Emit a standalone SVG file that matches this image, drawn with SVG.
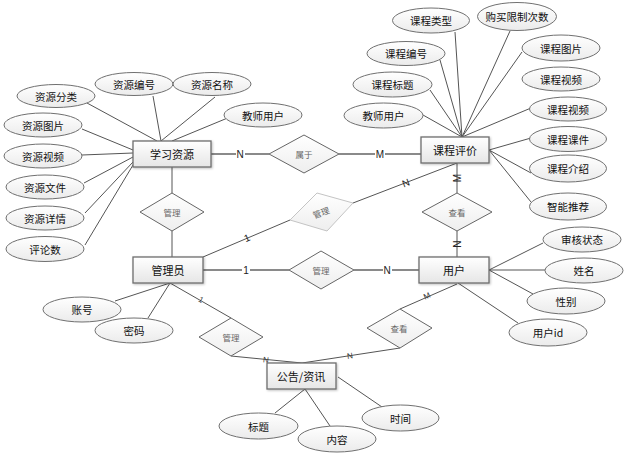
<svg xmlns="http://www.w3.org/2000/svg" width="633" height="465" viewBox="0 0 633 465">
<defs>
<linearGradient id="gE" x1="0" y1="0" x2="0" y2="1"><stop offset="0" stop-color="#ffffff"/><stop offset="1" stop-color="#e6e6e6"/></linearGradient>
<linearGradient id="gO" x1="0" y1="0" x2="0" y2="1"><stop offset="0" stop-color="#ffffff"/><stop offset="1" stop-color="#ebebeb"/></linearGradient>
<linearGradient id="gD" x1="0" y1="0" x2="0" y2="1"><stop offset="0" stop-color="#ffffff"/><stop offset="1" stop-color="#eeeeee"/></linearGradient>
<filter id="sh" x="-10%" y="-10%" width="130%" height="140%"><feDropShadow dx="1" dy="1" stdDeviation="0.8" flood-color="#000" flood-opacity="0.25"/></filter>
</defs>
<style>
.ent{fill:url(#gE);stroke:#6e6e6e;stroke-width:1.3;filter:url(#sh)}
.att{fill:url(#gO);stroke:#707070;stroke-width:1}
.rel{fill:url(#gD);stroke:#666;stroke-width:1}
.rel2{fill:url(#gD);stroke:#c4c4c4;stroke-width:1}
.ln{stroke:#555;stroke-width:1;fill:none}
.hl{stroke:#8a8a8a;stroke-width:2;fill:none}
text{font-family:"Noto Sans CJK SC","Liberation Sans",sans-serif;text-anchor:middle;dominant-baseline:central}
.te{font-size:11px;fill:#111}
.ta{font-size:10.5px;fill:#111}
.tr{font-size:8.5px;fill:#666}
.tc{font-size:10px;fill:#222;font-family:"Liberation Sans",sans-serif}
.ts{font-size:8px;fill:#333;font-family:"Liberation Sans",sans-serif}
</style>
<rect width="633" height="465" fill="#fff"/>
<g id="connectors">
<line class="ln" x1="87" y1="103" x2="157" y2="141"/>
<line class="ln" x1="153" y1="96" x2="161" y2="141"/>
<line class="ln" x1="215" y1="97" x2="161" y2="141"/>
<line class="ln" x1="230" y1="117" x2="172" y2="141"/>
<line class="ln" x1="82" y1="129" x2="133" y2="150"/>
<line class="ln" x1="82" y1="155" x2="133" y2="153"/>
<line class="ln" x1="84" y1="183" x2="133" y2="157"/>
<line class="ln" x1="85" y1="213" x2="133" y2="162"/>
<line class="ln" x1="85" y1="245" x2="133" y2="165"/>
<line class="ln" x1="455" y1="32" x2="462" y2="137"/>
<line class="ln" x1="510" y1="31" x2="462" y2="137"/>
<line class="ln" x1="440" y1="60" x2="462" y2="137"/>
<line class="ln" x1="522" y1="52" x2="462" y2="137"/>
<line class="ln" x1="430" y1="90" x2="462" y2="137"/>
<line class="ln" x1="423" y1="115" x2="462" y2="137"/>
<line class="ln" x1="531" y1="108" x2="462" y2="137"/>
<line class="ln" x1="531" y1="138" x2="489" y2="150"/>
<line class="ln" x1="531" y1="173" x2="489" y2="150"/>
<line class="ln" x1="531" y1="202" x2="489" y2="150"/>
<line class="ln" x1="543" y1="243" x2="489" y2="270"/>
<line class="ln" x1="545" y1="270" x2="489" y2="270"/>
<line class="ln" x1="533" y1="294" x2="489" y2="270"/>
<line class="ln" x1="518" y1="323" x2="458" y2="283"/>
<line class="ln" x1="115" y1="301" x2="170" y2="283"/>
<line class="ln" x1="148" y1="318" x2="170" y2="283"/>
<line class="ln" x1="275" y1="413" x2="305" y2="389"/>
<line class="ln" x1="305" y1="389" x2="330" y2="426"/>
<line class="ln" x1="338" y1="377" x2="382" y2="407"/>
<line class="hl" x1="211" y1="154" x2="269" y2="154"/>
<line class="hl" x1="339" y1="154" x2="421" y2="154"/>
<line class="ln" x1="457" y1="163" x2="457" y2="193"/>
<line class="ln" x1="457" y1="231" x2="457" y2="257"/>
<line class="ln" x1="172" y1="167" x2="172" y2="193"/>
<line class="ln" x1="172" y1="231" x2="172" y2="257"/>
<line class="ln" x1="203" y1="257" x2="290" y2="220"/>
<line class="ln" x1="353" y1="203" x2="457" y2="163"/>
<line class="hl" x1="203" y1="270" x2="289" y2="270"/>
<line class="hl" x1="354" y1="270" x2="419" y2="270"/>
<line class="ln" x1="170" y1="283" x2="231" y2="318"/>
<line class="ln" x1="231" y1="356" x2="302" y2="363"/>
<line class="ln" x1="457" y1="284" x2="400" y2="309"/>
<line class="ln" x1="400" y1="348" x2="302" y2="363"/>
<g>
<rect x="236" y="148" width="9" height="12" fill="#fff"/>
<text class="tc" x="240" y="154">N</text>
<rect x="375" y="148" width="10" height="12" fill="#fff"/>
<text class="tc" x="380" y="154">M</text>
<text class="tc" x="457" y="178" transform="rotate(-90 457 178)">M</text>
<text class="tc" x="457" y="244" transform="rotate(-90 457 244)">N</text>
<text class="tc" x="247" y="238" transform="rotate(-23 247 238)">1</text>
<text class="tc" x="406" y="183" transform="rotate(-21 406 183)">N</text>
<rect x="242" y="264" width="8" height="12" fill="#fff"/>
<text class="tc" x="246" y="270">1</text>
<rect x="383" y="264" width="9" height="12" fill="#fff"/>
<text class="tc" x="387" y="270">N</text>
<text class="ts" x="201" y="300" transform="rotate(30 201 300)">1</text>
<text class="ts" x="266" y="360" transform="rotate(6 266 360)">N</text>
<text class="ts" x="427" y="296" transform="rotate(-24 427 296)">M</text>
<text class="ts" x="350" y="356" transform="rotate(-9 350 356)">N</text>
</g>
</g>
<g id="xuexiziyuan"><rect class="ent" x="133" y="141" width="78" height="26"/><text class="te" x="172" y="154">学习资源</text></g>
<g id="kechengpingjia"><rect class="ent" x="421" y="137" width="68" height="26"/><text class="te" x="455" y="150">课程评价</text></g>
<g id="guanliyuan"><rect class="ent" x="133" y="257" width="70" height="26"/><text class="te" x="168" y="270">管理员</text></g>
<g id="yonghu"><rect class="ent" x="419" y="257" width="70" height="26"/><text class="te" x="454" y="270">用户</text></g>
<g id="gonggao"><rect class="ent" x="267" y="363" width="69" height="26"/><text class="te" x="301" y="376">公告/资讯</text></g>
<g id="rel-shuyu"><polygon class="rel" points="269,154 304,135 339,154 304,173"/><text class="tr" x="304" y="154">属于</text></g>
<g id="rel-chakan1"><polygon class="rel" points="422,212 457,193 492,212 457,231"/><text class="tr" x="457" y="212">查看</text></g>
<g id="rel-guanli1"><polygon class="rel" points="140,212 172,193 204,212 172,231"/><text class="tr" x="172" y="212">管理</text></g>
<g id="rel-guanli2"><polygon class="rel" points="289,270 321,251 354,270 321,289"/><text class="tr" x="321" y="270">管理</text></g>
<g id="rel-guanli3"><polygon class="rel2" points="290,220 317,193 353,203 327,231"/><text class="tr" x="321" y="212" transform="rotate(-20 321 212)">管理</text></g>
<g id="rel-guanli4"><polygon class="rel" points="199,337 231,318 263,337 231,356"/><text class="tr" x="231" y="337">管理</text></g>
<g id="rel-chakan2"><polygon class="rel" points="367,328 400,309 432,328 400,348"/><text class="tr" x="399" y="328">查看</text></g>
<g id="attr-zyfl"><ellipse class="att" cx="56" cy="96" rx="39" ry="11.5"/><text class="ta" x="56" y="96">资源分类</text></g>
<g id="attr-zybh"><ellipse class="att" cx="134" cy="84" rx="39" ry="11.5"/><text class="ta" x="134" y="84">资源编号</text></g>
<g id="attr-zymc"><ellipse class="att" cx="212" cy="84" rx="39" ry="11.5"/><text class="ta" x="212" y="84">资源名称</text></g>
<g id="attr-jsyh1"><ellipse class="att" cx="263" cy="115" rx="39" ry="12"/><text class="ta" x="263" y="115">教师用户</text></g>
<g id="attr-zytp"><ellipse class="att" cx="43" cy="125" rx="39" ry="12"/><text class="ta" x="43" y="125">资源图片</text></g>
<g id="attr-zysp"><ellipse class="att" cx="43" cy="156" rx="39" ry="12"/><text class="ta" x="43" y="156">资源视频</text></g>
<g id="attr-zywj"><ellipse class="att" cx="45" cy="187" rx="39" ry="12"/><text class="ta" x="45" y="187">资源文件</text></g>
<g id="attr-zyxq"><ellipse class="att" cx="45" cy="218" rx="39" ry="12"/><text class="ta" x="45" y="218">资源详情</text></g>
<g id="attr-pls"><ellipse class="att" cx="45" cy="249" rx="39" ry="12.5"/><text class="ta" x="45" y="249">评论数</text></g>
<g id="attr-kclx"><ellipse class="att" cx="431" cy="20.5" rx="38.5" ry="12.5"/><text class="ta" x="431" y="20.5">课程类型</text></g>
<g id="attr-gmxz"><ellipse class="att" cx="517" cy="16.5" rx="39.5" ry="14"/><text class="ta" x="517" y="16.5">购买限制次数</text></g>
<g id="attr-kcbh"><ellipse class="att" cx="406" cy="53.5" rx="39" ry="12"/><text class="ta" x="406" y="53.5">课程编号</text></g>
<g id="attr-kctp"><ellipse class="att" cx="561" cy="48" rx="39" ry="13"/><text class="ta" x="561" y="48">课程图片</text></g>
<g id="attr-kcbt"><ellipse class="att" cx="392.5" cy="84.5" rx="39.5" ry="12.5"/><text class="ta" x="392.5" y="84.5">课程标题</text></g>
<g id="attr-kcsp1"><ellipse class="att" cx="561" cy="79" rx="39" ry="12"/><text class="ta" x="561" y="79">课程视频</text></g>
<g id="attr-jsyh2"><ellipse class="att" cx="383.5" cy="115.5" rx="39.5" ry="12.5"/><text class="ta" x="383.5" y="115.5">教师用户</text></g>
<g id="attr-kcsp2"><ellipse class="att" cx="568" cy="109" rx="38.5" ry="12"/><text class="ta" x="568" y="109">课程视频</text></g>
<g id="attr-kckj"><ellipse class="att" cx="568" cy="139" rx="38.5" ry="12.5"/><text class="ta" x="568" y="139">课程课件</text></g>
<g id="attr-kcjs"><ellipse class="att" cx="568" cy="168.5" rx="38.5" ry="13.5"/><text class="ta" x="568" y="168.5">课程介绍</text></g>
<g id="attr-zntj"><ellipse class="att" cx="568" cy="206.5" rx="38.5" ry="13.5"/><text class="ta" x="568" y="206.5">智能推荐</text></g>
<g id="attr-shzt"><ellipse class="att" cx="582" cy="239.5" rx="39" ry="12.5"/><text class="ta" x="582" y="239.5">审核状态</text></g>
<g id="attr-xm"><ellipse class="att" cx="584" cy="270.5" rx="39" ry="12.5"/><text class="ta" x="584" y="270.5">姓名</text></g>
<g id="attr-xb"><ellipse class="att" cx="566" cy="301" rx="39" ry="13"/><text class="ta" x="566" y="301">性别</text></g>
<g id="attr-yhid"><ellipse class="att" cx="548" cy="332.5" rx="39" ry="13.5"/><text class="ta" x="548" y="332.5">用户id</text></g>
<g id="attr-zh"><ellipse class="att" cx="82" cy="309.5" rx="39" ry="12.5"/><text class="ta" x="82" y="309.5">账号</text></g>
<g id="attr-mm"><ellipse class="att" cx="134" cy="330.5" rx="39" ry="12.5"/><text class="ta" x="134" y="330.5">密码</text></g>
<g id="attr-bt"><ellipse class="att" cx="258.5" cy="426" rx="39.5" ry="13"/><text class="ta" x="258.5" y="426">标题</text></g>
<g id="attr-nr"><ellipse class="att" cx="337" cy="439" rx="39" ry="13"/><text class="ta" x="337" y="439">内容</text></g>
<g id="attr-sj"><ellipse class="att" cx="400.5" cy="418" rx="38.5" ry="13"/><text class="ta" x="400.5" y="418">时间</text></g>
</svg>
